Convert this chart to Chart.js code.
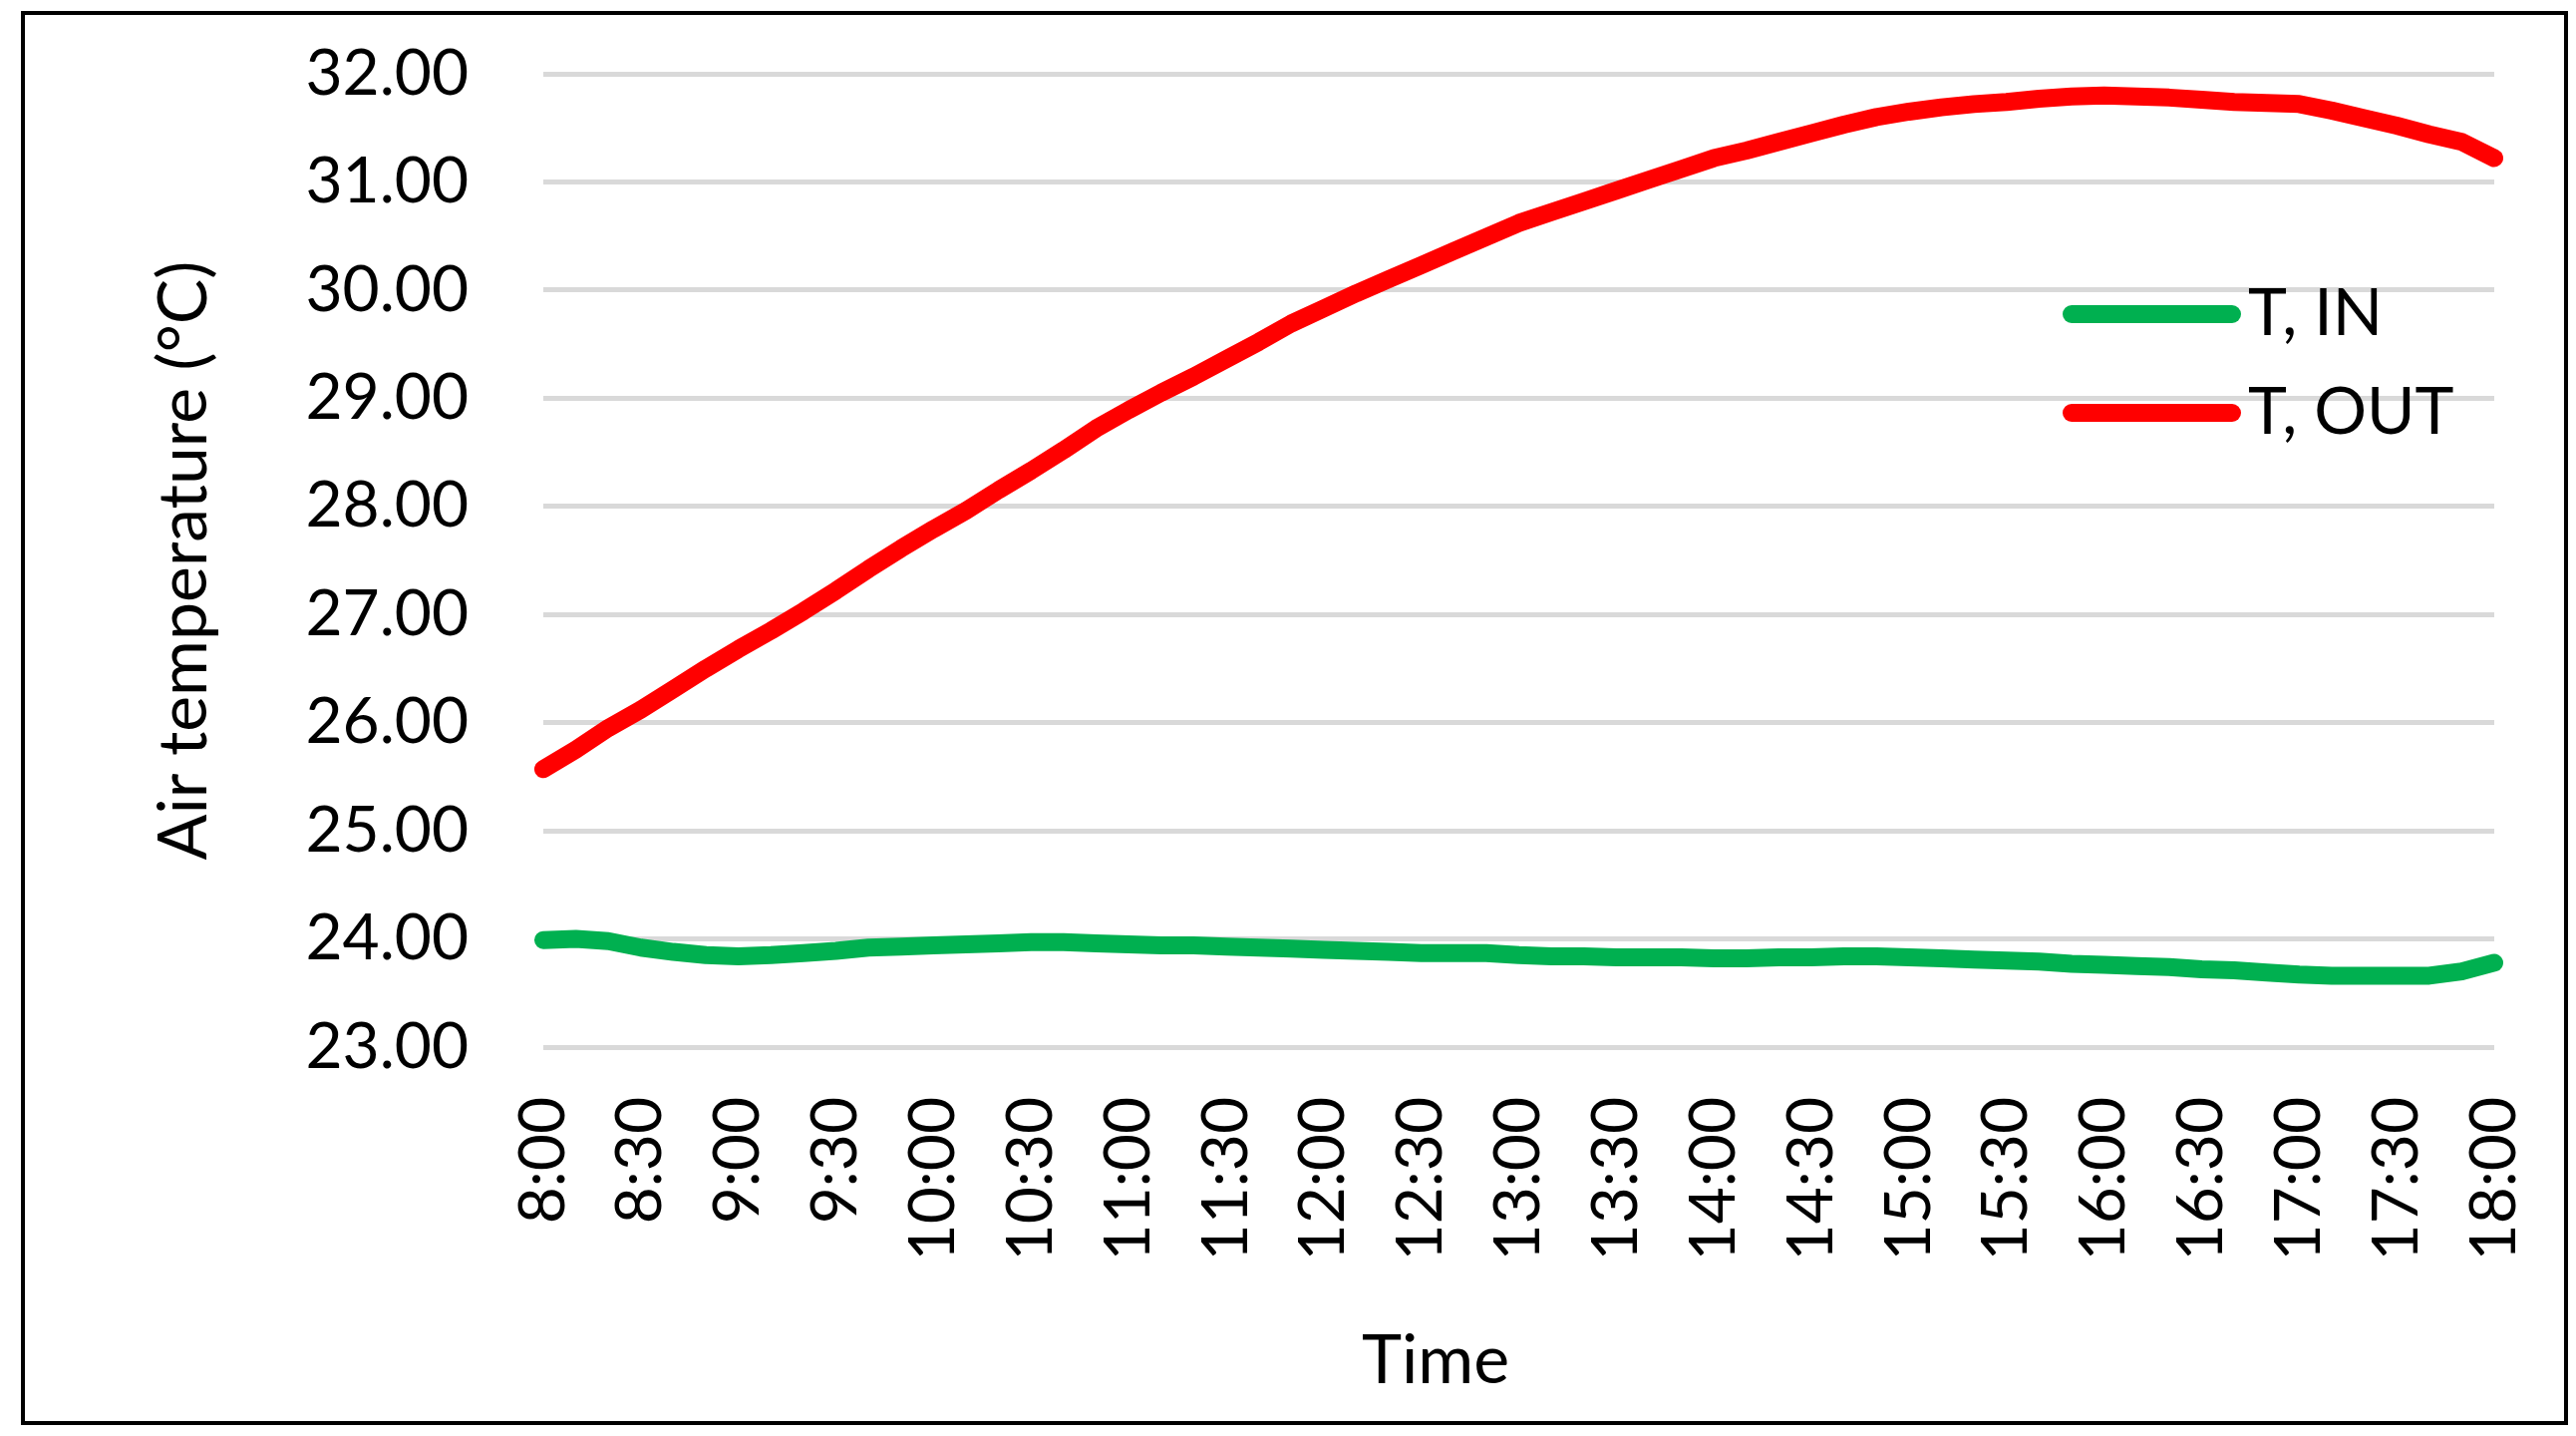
<!DOCTYPE html>
<html>
<head>
<meta charset="utf-8">
<title>Air temperature</title>
<script src="https://cdn.jsdelivr.net/npm/chart.js@4.4.1/dist/chart.umd.min.js"></script>
<style>
  body { margin: 0; background: #fff; }
  #wrap { position: relative; width: 2584px; height: 1440px; }
  #frame {
    position: absolute; left: 21px; top: 11px; width: 2555px; height: 1418px;
    border: 4px solid #000; box-sizing: border-box; pointer-events: none;
  }
  canvas { position: absolute; left: 0; top: 0; }
</style>
</head>
<body>
<div id="wrap">
  <canvas id="myChart" width="2584" height="1440"></canvas>
  <div id="frame"></div>
</div>
<script>
// readings every 10 minutes
const times = [
  '8:00', '8:10', '8:20', '8:30', '8:40', '8:50',
  '9:00', '9:10', '9:20', '9:30', '9:40', '9:50',
  '10:00', '10:10', '10:20', '10:30', '10:40', '10:50',
  '11:00', '11:10', '11:20', '11:30', '11:40', '11:50',
  '12:00', '12:10', '12:20', '12:30', '12:40', '12:50',
  '13:00', '13:10', '13:20', '13:30', '13:40', '13:50',
  '14:00', '14:10', '14:20', '14:30', '14:40', '14:50',
  '15:00', '15:10', '15:20', '15:30', '15:40', '15:50',
  '16:00', '16:10', '16:20', '16:30', '16:40', '16:50',
  '17:00', '17:10', '17:20', '17:30', '17:40', '17:50',
  '18:00'
];

const tickLabels = [
  '8:00', '8:30', '9:00', '9:30', '10:00', '10:30', '11:00', '11:30',
  '12:00', '12:30', '13:00', '13:30', '14:00', '14:30', '15:00', '15:30',
  '16:00', '16:30', '17:00', '17:30', '18:00'
];

const tIn = [
  23.99, 24.00, 23.98, 23.92, 23.88, 23.85,
  23.84, 23.85, 23.87, 23.89, 23.92, 23.93,
  23.94, 23.95, 23.96, 23.97, 23.97, 23.96,
  23.95, 23.94, 23.94, 23.93, 23.92, 23.91,
  23.90, 23.89, 23.88, 23.87, 23.87, 23.87,
  23.85, 23.84, 23.84, 23.83, 23.83, 23.83,
  23.82, 23.82, 23.83, 23.83, 23.84, 23.84,
  23.83, 23.82, 23.81, 23.80, 23.79, 23.77,
  23.76, 23.75, 23.74, 23.72, 23.71, 23.69,
  23.67, 23.66, 23.66, 23.66, 23.66, 23.70,
  23.78
];

const tOut = [
  25.57, 25.75, 25.95, 26.12, 26.31, 26.50,
  26.68, 26.85, 27.03, 27.22, 27.42, 27.61,
  27.79, 27.96, 28.15, 28.33, 28.52, 28.72,
  28.89, 29.05, 29.20, 29.36, 29.52, 29.69,
  29.83, 29.97, 30.10, 30.23, 30.36, 30.49,
  30.62, 30.72, 30.82, 30.92, 31.02, 31.12,
  31.22, 31.29, 31.37, 31.45, 31.53, 31.60,
  31.65, 31.69, 31.72, 31.74, 31.77, 31.79,
  31.80, 31.79, 31.78, 31.76, 31.74, 31.73,
  31.72, 31.66, 31.59, 31.52, 31.44, 31.37,
  31.22
];

const seriesNames = ['T, IN', 'T, OUT'];
const seriesColors = ['#00b050', '#ff0000'];

Chart.defaults.font.family = 'Lato';
Chart.defaults.color = '#000';

// legend inside the plot and the x title, drawn by hand
const extras = {
  id: 'extras',
  afterDraw(chart) {
    const ctx = chart.ctx;
    ctx.save();
    ctx.font = '66px Lato';
    ctx.fillStyle = '#000';
    ctx.textBaseline = 'middle';
    seriesNames.forEach((name, i) => {
      const y = 315 + i * 99;
      ctx.strokeStyle = seriesColors[i];
      ctx.lineWidth = 18;
      ctx.lineCap = 'round';
      ctx.beginPath();
      ctx.moveTo(2078, y);
      ctx.lineTo(2239, y);
      ctx.stroke();
      ctx.textAlign = 'left';
      ctx.fillText(name, 2255, y);
    });
    ctx.font = '68px Lato';
    ctx.textAlign = 'center';
    ctx.fillText('Time', 1440, 1365);
    ctx.restore();
  }
};

const data = {
  labels: times,
  datasets: [
    { label: seriesNames[0], data: tIn, borderColor: seriesColors[0] },
    { label: seriesNames[1], data: tOut, borderColor: seriesColors[1] }
  ]
};

const config = {
  type: 'line',
  data: data,
  options: {
    responsive: false,
    animation: false,
    devicePixelRatio: 1,
    layout: { padding: { top: 74, right: 82, bottom: 0, left: 0 } },
    elements: {
      line: { borderWidth: 18, tension: 0, borderCapStyle: 'round', borderJoinStyle: 'round' },
      point: { radius: 0 }
    },
    plugins: {
      legend: { display: false },
      tooltip: { enabled: false }
    },
    scales: {
      x: {
        // invisible tick length keeps the labels off the plot without padding the sides
        grid: { display: false, drawTicks: true, tickLength: 50 },
        border: { display: false },
        ticks: {
          autoSkip: false,
          maxRotation: 90,
          minRotation: 90,
          padding: 0,
          font: { size: 64 },
          callback: function (val, idx) {
            const t = times[idx];
            return tickLabels.includes(t) ? t : '';
          }
        },
        afterFit: function (scale) { scale.height = 390; }
      },
      y: {
        min: 23,
        max: 32,
        grid: { color: '#d9d9d9', lineWidth: 5, drawTicks: true, tickLength: 75, tickColor: 'rgba(0,0,0,0)' },
        border: { display: false },
        ticks: {
          stepSize: 1,
          padding: 0,
          font: { size: 64 },
          callback: function (v) { return v.toFixed(2); }
        },
        title: {
          display: true,
          text: 'Air temperature (°C)',
          font: { size: 68 },
          padding: { top: 144, bottom: 0 }
        },
        afterFit: function (scale) { scale.width = 545; }
      }
    }
  },
  plugins: [extras]
};

const myChart = new Chart(document.getElementById('myChart'), config);
</script>
</body>
</html>
